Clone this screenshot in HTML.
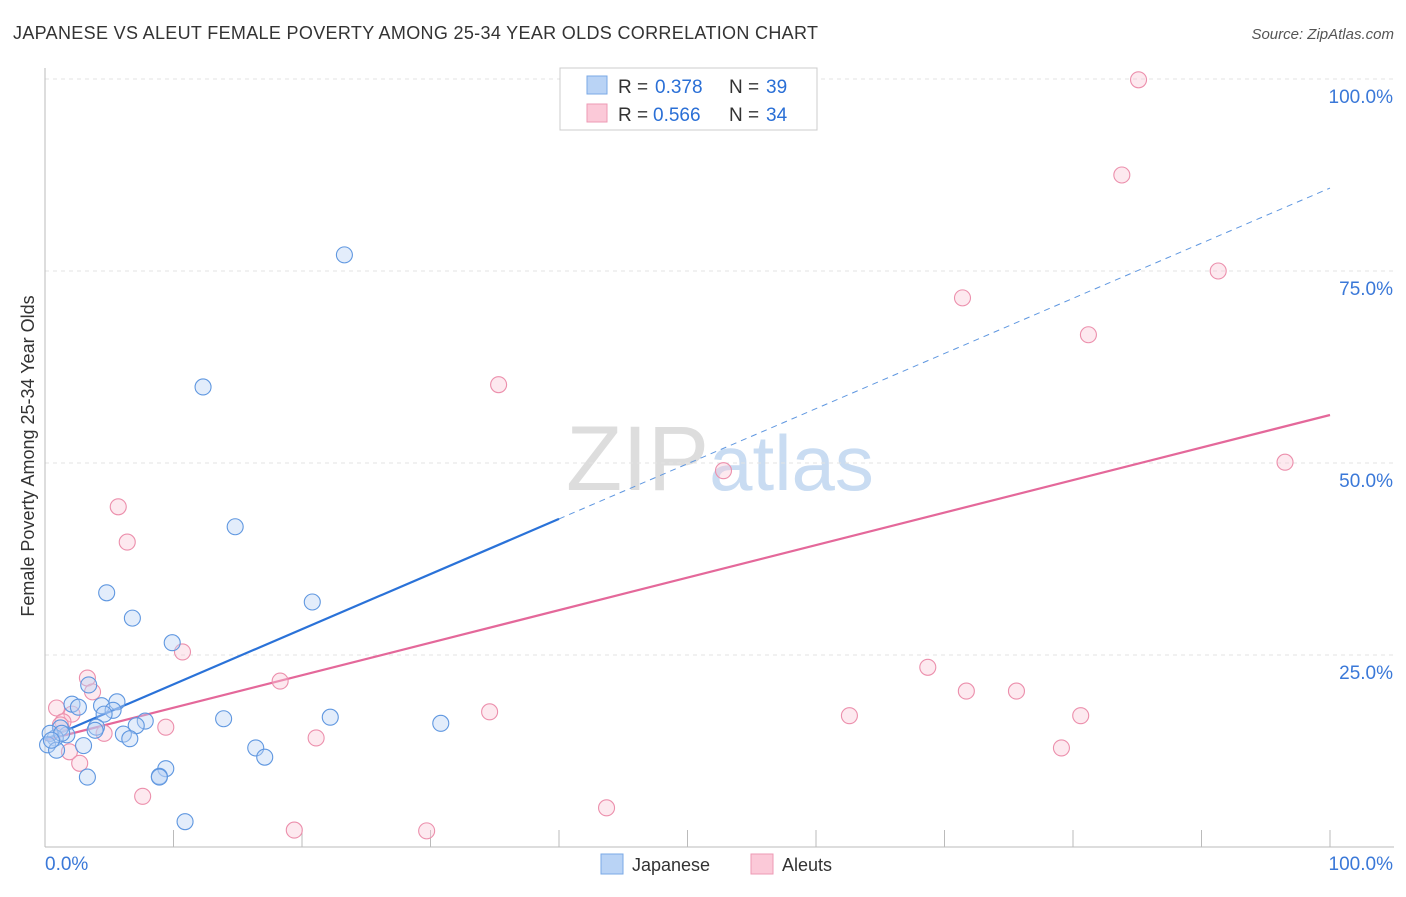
<!DOCTYPE html>
<html><head><meta charset="utf-8"><style>
body{margin:0;background:#fff;font-family:"Liberation Sans",sans-serif;}
svg text{font-family:"Liberation Sans",sans-serif;}
</style></head><body>
<svg id="chart" width="1406" height="892" viewBox="0 0 1406 892" xmlns="http://www.w3.org/2000/svg">
<text x="13" y="39" font-size="18" fill="#333" textLength="805">JAPANESE VS ALEUT FEMALE POVERTY AMONG 25-34 YEAR OLDS CORRELATION CHART</text>
<text x="1394" y="39" font-size="15" fill="#555" text-anchor="end" font-style="italic">Source: ZipAtlas.com</text>
<text transform="translate(34,456) rotate(-90)" font-size="18" fill="#333" text-anchor="middle">Female Poverty Among 25-34 Year Olds</text>
<text x="720" y="490" font-size="92" fill="#ddd" text-anchor="middle" font-family="Liberation Serif">ZIP<tspan fill="#c9dcf2" font-family="Liberation Sans" font-size="78">atlas</tspan></text>
<g id="grid"></g><g id="axes"></g><g id="lines"></g><g id="pts"></g>
<g>
<rect x="560" y="68" width="257" height="62" fill="#fff" stroke="#ccc"/>
<rect x="587" y="76" width="20" height="18" fill="#b9d3f5" stroke="#7aa8e6"/>
<rect x="587" y="104" width="20" height="18" fill="#fbc9d8" stroke="#ee9ab4"/>
<text x="618" y="93" font-size="19" fill="#333">R =</text><text x="655" y="93" font-size="19" fill="#2a6fd6">0.378</text>
<text x="729" y="93" font-size="19" fill="#333">N =</text><text x="766" y="93" font-size="19" fill="#2a6fd6">39</text>
<text x="618" y="121" font-size="19" fill="#333">R =</text><text x="653" y="121" font-size="19" fill="#2a6fd6">0.566</text>
<text x="729" y="121" font-size="19" fill="#333">N =</text><text x="766" y="121" font-size="19" fill="#2a6fd6">34</text>
</g>
<g>
<rect x="601" y="854" width="22" height="20" fill="#b9d3f5" stroke="#7aa8e6"/>
<text x="632" y="871" font-size="18" fill="#333">Japanese</text>
<rect x="751" y="854" width="22" height="20" fill="#fbc9d8" stroke="#ee9ab4"/>
<text x="782" y="871" font-size="18" fill="#333">Aleuts</text>
</g>
</svg>
<script>
const jpX=[23.3,12.3,14.8,4.8,6.8,20.8,9.9,3.4,2.1,2.6,5.6,4.4,5.3,4.6,7.8,7.1,13.9,22.2,30.8,4.0,6.1,6.6,1.7,1.2,0.8,0.4,0.2,0.9,3.0,16.4,17.1,9.4,8.9,8.9,3.3,10.9,1.3,0.5,3.9];
const jpY=[77.1,59.9,41.7,33.1,29.8,31.9,26.6,21.1,18.6,18.2,18.9,18.4,17.8,17.3,16.4,15.8,16.7,16.9,16.1,15.6,14.7,14.1,14.6,15.5,14.2,14.8,13.3,12.6,13.2,12.9,11.7,10.2,9.2,9.1,9.1,3.3,14.8,13.9,15.2];
const alX=[85.1,83.8,91.3,71.4,81.2,35.3,52.8,96.5,5.7,6.4,10.7,3.3,18.3,3.7,0.9,2.1,1.4,9.4,4.6,21.1,34.6,68.7,71.7,75.6,62.6,80.6,79.1,1.9,2.7,7.6,43.7,19.4,29.7,1.2];
const alY=[99.9,87.5,75.0,71.5,66.7,60.2,49.0,50.1,44.3,39.7,25.4,22.0,21.6,20.2,18.1,17.3,16.3,15.6,14.8,14.2,17.6,23.4,20.3,20.3,17.1,17.1,12.9,12.4,10.9,6.6,5.1,2.2,2.1,15.9];
const yTicks=[25,50,75,100];
const yTickLabels=["25.0%","50.0%","75.0%","100.0%"];
const xTicks=[0,10,20,30,40,50,60,70,80,90,100];
const jpFit=[14.0,85.8];
const alFit=[13.9,56.25];
const NS="http://www.w3.org/2000/svg";
const sx=v=>45+v*12.85, sy=v=>847-v*7.68;
function mk(p,t,a){const e=document.createElementNS(NS,t);for(const k in a)e.setAttribute(k,a[k]);p.appendChild(e);return e;}
const grid=document.getElementById('grid'),axes=document.getElementById('axes'),lines=document.getElementById('lines'),pts=document.getElementById('pts');
yTicks.forEach((t,i)=>{
 const g=mk(grid,'line',{x1:45,x2:1394,y1:sy(t),y2:sy(t),stroke:'#e3e3e3','stroke-dasharray':'4,4'});
 
 
 const l=mk(axes,'text',{x:1393,y:sy(t)+24,'font-size':19,fill:'#3a78d8','text-anchor':'end'});l.textContent=yTickLabels[i];
 
 
});
const ax=mk(axes,'line',{x1:45,x2:45,y1:68,y2:847,stroke:'#bbb'});


const bx=mk(axes,'line',{x1:45,x2:1394,y1:847,y2:847,stroke:'#bbb'});


xTicks.forEach(t=>{const e=mk(axes,'line',{x1:sx(t),x2:sx(t),y1:830,y2:847,stroke:'#bbb'});
 
 });
const x0=mk(axes,'text',{x:45,y:870,'font-size':19,fill:'#3a78d8'});x0.textContent='0.0%';


const x1=mk(axes,'text',{x:1393,y:870,'font-size':19,fill:'#3a78d8','text-anchor':'end'});x1.textContent='100.0%';


function drawPts(X,Y,fill,stroke,name){X.forEach((x,i)=>{const c=mk(pts,'circle',{cx:sx(x),cy:sy(Y[i]),r:8,fill:fill,'fill-opacity':0.4,stroke:stroke,'stroke-width':1.1});
 
 });}
drawPts(alX,alY,'#fbc9d8','#ec8fac','aleut-point');
drawPts(jpX,jpY,'#b9d3f5','#5f97e0','japanese-point');
const fy=(f,x)=>f[0]+(f[1]-f[0])*x/100;
const jl=mk(lines,'line',{x1:sx(0),y1:sy(fy(jpFit,0)),x2:sx(40),y2:sy(fy(jpFit,40)),stroke:'#2a72d8','stroke-width':2.2});


const jd=mk(lines,'line',{x1:sx(40),y1:sy(fy(jpFit,40)),x2:sx(100),y2:sy(fy(jpFit,100)),stroke:'#5f97e0','stroke-width':1,'stroke-dasharray':'6,5'});


const al=mk(lines,'line',{x1:sx(0),y1:sy(fy(alFit,0)),x2:sx(100),y2:sy(fy(alFit,100)),stroke:'#e4689a','stroke-width':2.2});


</script>
</body></html>
